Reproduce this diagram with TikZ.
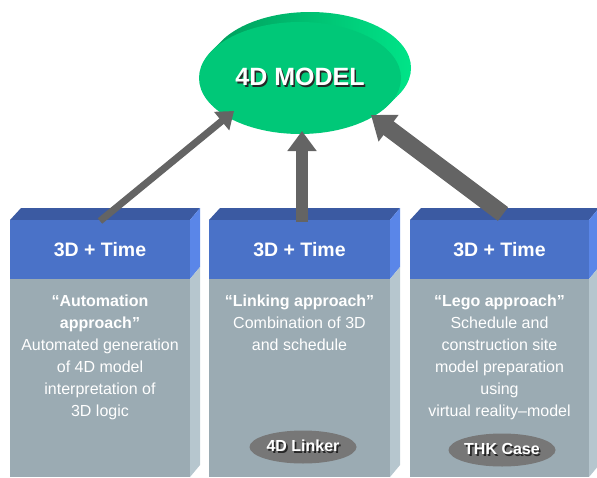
\documentclass[tikz,border=0pt]{standalone}
\usepackage{fontspec}
\setmainfont{Liberation Sans}
\usetikzlibrary{shapes.geometric,arrows.meta}
\definecolor{hdrblue}{HTML}{4A72C8}
\definecolor{topblue}{HTML}{3B5AA2}
\definecolor{sideblue}{HTML}{5A86E8}
\definecolor{bodygray}{HTML}{9BABB3}
\definecolor{sidegray}{HTML}{B6C6CE}
\definecolor{gfront}{HTML}{00C878}
\definecolor{gdark}{HTML}{009A5A}
\definecolor{glight}{HTML}{00E488}
\definecolor{arrgray}{HTML}{646464}
\definecolor{ovalgray}{HTML}{777777}
\newcommand\shtxt[1]{\makebox[0pt][l]{\hspace*{1.6pt}\raisebox{-1.6pt}{\textcolor{black!85}{#1}}}#1}
\begin{document}
\begin{tikzpicture}[x=1pt,y=-1pt,
  hdr/.style={rectangle, fill=hdrblue, inner sep=0, minimum width=#1, minimum height=59,
    text=white, font=\fontsize{19.5}{22}\selectfont\bfseries},
  bodyf/.style={rectangle, fill=bodygray, inner sep=0, minimum width=#1, minimum height=198, anchor=north west},
  btext/.style={align=center, inner sep=0, anchor=north, text=white, font=\fontsize{16}{22}\selectfont},
  oval/.style={ellipse, fill=ovalgray, inner sep=0, minimum width=107, minimum height=33,
    text=white, font=\fontsize{16}{18}\selectfont\bfseries},
  arr/.style={draw=arrgray, line cap=butt}
]
\useasboundingbox (0,0) rectangle (597,477);

% 4D model ellipse with extrusion
\shade[left color=gdark, right color=glight]
  (310,68) ellipse [x radius=101, y radius=56]
  (308,70) ellipse [x radius=101, y radius=56]
  (306,72) ellipse [x radius=101, y radius=56]
  (304,74) ellipse [x radius=101, y radius=56]
  (302,76) ellipse [x radius=101, y radius=56];
\node[ellipse, fill=gfront, inner sep=0, minimum width=202, minimum height=112,
  text=white, font=\fontsize{25}{28}\selectfont\bfseries] (model) at (300,78) {\shtxt{4D MODEL}};

% boxes
\foreach \L/\R/\n in {10/190/1, 209/390/2, 410/589/3}{
  \fill[topblue] (\L,220) -- ({\L+11},208) -- ({\R+10},208) -- (\R,220) -- cycle;
  \fill[sideblue] (\R,220) -- ({\R+10},208) -- ({\R+10},267) -- (\R,279) -- cycle;
  \fill[sidegray] (\R,279) -- ({\R+10},267) -- ({\R+10},465) -- (\R,477) -- cycle;
  \pgfmathsetmacro\W{\R-\L}
  \pgfmathsetmacro\C{(\R+\L)/2}
  \node[hdr=\W] (h\n) at (\C,249.5) {3D + Time};
  \node[bodyf=\W] (b\n) at (\L,279) {};
}

\node[btext] (t1) at (100,295) {{\bfseries “Automation}\\{\bfseries approach”}\\Automated generation\\of 4D model\\interpretation of\\3D logic};
\node[btext] (t2) at (299.5,295) {{\bfseries “Linking approach”}\\Combination of 3D\\and schedule};
\node[btext] (t3) at (499.5,295) {{\bfseries “Lego approach”}\\Schedule and\\construction site\\model preparation\\using\\virtual reality–model};

\node[oval] (linker) at (303,447) {\shtxt{4D Linker}};
\node[oval] (thk) at (502,450) {\shtxt{THK Case}};

% arrows
\coordinate (a1s) at (100,221);
\coordinate (a1e) at (234,111);
\coordinate (a2s) at (302,222);
\coordinate (a2e) at (302,131);
\coordinate (a3s) at (503,214);
\coordinate (a3e) at (371,115);
\draw[arr, line width=7pt, -{Triangle[width=23pt,length=16pt]}] (a1s) -- (a1e);
\draw[arr, line width=12pt, -{Triangle[width=28pt,length=20pt]}] (a2s) -- (a2e);
\draw[arr, line width=17pt, -{Triangle[width=32pt,length=22pt]}] (a3s) -- (a3e);
\end{tikzpicture}
\end{document}
